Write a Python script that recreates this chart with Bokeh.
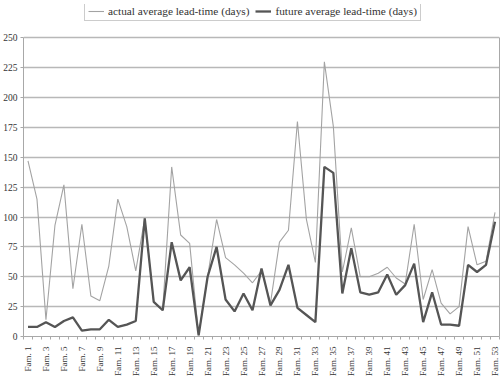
import math
from bokeh.plotting import figure
from bokeh.models import Range1d, FixedTicker, Legend, LegendItem, ColumnDataSource, LinearAxis
from bokeh.embed import file_html
from bokeh.resources import INLINE

families = list(range(1, 54))
actual = [147, 115, 14, 93, 127, 40, 94, 34, 30, 59, 115, 92, 55, 99, 29, 22,
          142, 85, 78, 1, 50, 98, 66, 60, 53, 45, 55, 28, 79, 89, 180, 98, 62, 230,
          176, 54, 91, 50, 50, 53, 58, 49, 44, 94, 31, 56, 28, 19, 25, 92, 60, 63, 104]
future = [8, 8, 12, 8, 13, 16, 5, 6, 6, 14, 8, 10, 13, 99, 29, 22,
          79, 47, 58, 1, 50, 75, 31, 21, 36, 22, 57, 26, 39, 60, 24, 18, 12, 142,
          137, 36, 74, 37, 35, 37, 52, 35, 43, 61, 12, 37, 10, 10, 9, 60, 54, 60, 96]
y_ticks = list(range(0, 251, 25))
y_max = 250
x_label_fams = list(range(1, 54, 2))

FONT = "Liberation Serif"
FW, FH = 476, 332
GRAY = "#a8a8a8"

p = figure(frame_width=FW, frame_height=FH, output_backend="svg", toolbar_location=None,
           x_range=Range1d(0.5, 53.5), y_range=Range1d(0, 278),
           min_border_left=0, min_border_right=2, min_border_top=4, min_border_bottom=0)

src = ColumnDataSource(dict(x=families, actual=actual, future=future))
r1 = p.line("x", "actual", source=src, line_color="#a3a3a3", line_width=1.1)
r2 = p.line("x", "future", source=src, line_color="#555555", line_width=2.3)

legend = Legend(items=[LegendItem(label="actual average lead-time (days)", renderers=[r1]),
                       LegendItem(label="future average lead-time (days)", renderers=[r2])],
                orientation="horizontal", location=(61, 315),
                label_text_font=FONT, label_text_font_size="11.3px", label_text_color="#333333",
                border_line_color="#999999", border_line_width=1,
                glyph_width=16, glyph_height=10, label_standoff=4, spacing=6,
                padding=3, margin=0, label_height=12)
p.add_layout(legend, "center")

# y axis
p.yaxis.ticker = FixedTicker(ticks=y_ticks)
p.yaxis.bounds = (0, y_max)
p.yaxis.major_label_text_font = FONT
p.yaxis.major_label_text_font_size = "9.5px"
p.yaxis.major_label_text_color = "#333333"
p.yaxis.axis_line_color = GRAY
p.yaxis.major_tick_line_color = GRAY
p.yaxis.major_tick_in = 0
p.yaxis.major_tick_out = 3
p.yaxis.minor_tick_line_color = None
p.yaxis.major_label_standoff = 3

# right frame edge
right = LinearAxis(bounds=(0, y_max), ticker=FixedTicker(ticks=[]), axis_line_color=GRAY,
                   major_tick_line_color=None, minor_tick_line_color=None,
                   major_label_text_font_size="0px", major_label_standoff=0)
p.add_layout(right, "right")

# x axis
p.xaxis.ticker = FixedTicker(ticks=x_label_fams, minor_ticks=[i + 0.5 for i in range(0, 54)])
p.xaxis.major_label_overrides = {f: "Fam. %d" % f for f in x_label_fams}
p.xaxis.major_label_orientation = math.pi / 2
p.xaxis.major_label_text_font = FONT
p.xaxis.major_label_text_font_size = "9px"
p.xaxis.major_label_text_color = "#333333"
p.xaxis.axis_line_color = GRAY
p.xaxis.major_tick_line_color = None
p.xaxis.minor_tick_line_color = GRAY
p.xaxis.minor_tick_in = 0
p.xaxis.minor_tick_out = 3
p.xaxis.major_label_standoff = 4

p.xgrid.grid_line_color = None
p.ygrid.grid_line_color = "#b8b8b8"
p.ygrid.grid_line_width = 1.3
p.outline_line_color = None
p.background_fill_color = "white"
p.border_fill_color = "white"

open("out.html", "w").write(file_html(p, INLINE))
